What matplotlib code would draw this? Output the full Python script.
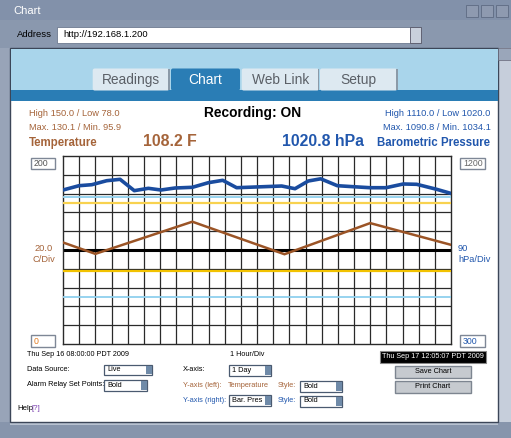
import matplotlib
matplotlib.use("Agg")
import matplotlib.pyplot as plt
from matplotlib.patches import Rectangle, FancyBboxPatch

plt.rcParams['font.family'] = ['Liberation Sans', 'DejaVu Sans']

# ---------------- data ----------------
temp_hours = [0, 2, 8, 13.7, 19, 24]
temp_values = [108.0, 95.9, 130.1, 95.5, 128.6, 105.5]

pres_hours = [0, 0.99, 1.78, 2.70, 3.53, 4.41, 5.28, 6.06, 6.93, 8.0, 8.99, 9.88,
              10.74, 13.53, 14.35, 15.17, 15.94, 16.97, 17.96, 18.99, 19.98,
              21.05, 21.88, 23.11, 24]
pres_values = [1037.2, 1057.8, 1062.6, 1081.7, 1088.4, 1034.1, 1045.3, 1037.2,
               1046.8, 1050.1, 1072.2, 1083.6, 1048.2, 1056.3, 1043.4, 1080.3,
               1090.8, 1057.8, 1053.0, 1048.2, 1048.2, 1066.0, 1064.5, 1040.6,
               1020.8]

temp_alarms = [150.0, 78.0]        # High / Low (left axis)
pres_alarms = [1003.0, 525.0]      # light blue set points (right axis)
left_range = (0, 200)
right_range = (300, 1200)
n_hours = 24
tab_labels = ["Readings", "Chart", "Web Link", "Setup"]

BROWN_TXT = '#a5643a'
BROWN_LINE = '#9b5426'
BLUE_TXT = '#2157ad'
BLUE_LINE = '#1a4c9f'

W, H = 511, 438
fig = plt.figure(figsize=(W / 100, H / 100), dpi=100)
bg = fig.add_axes([0, 0, 1, 1])
bg.set_xlim(0, W)
bg.set_ylim(H, 0)
bg.axis('off')


def rect(x, y, w, h, fc, ec='none', lw=0, z=1):
    bg.add_patch(Rectangle((x, y), w, h, facecolor=fc, edgecolor=ec, linewidth=lw, zorder=z))


def txt(x, y, s, size=6.7, color='black', weight='normal', ha='left', va='center', z=5, **kw):
    bg.text(x, y, s, fontsize=size, color=color, fontweight=weight, ha=ha, va=va, zorder=z, **kw)


def dropdown(x, y, w, h, label):
    rect(x, y, w, h, 'white', '#4a5a70', 0.9, z=3)
    rect(x + w - 6, y + 1, 5.5, h - 2, '#6f8aa8', z=4)
    txt(x + 3, y + h / 2, label, size=5.3)


# ---------------- window chrome ----------------
rect(0, 0, W, H, '#8796ad', z=0)
rect(0, 0, W, 20, '#8291aa', z=0.5)
txt(13, 11.5, "Chart", size=8, color='white')
# window buttons
for bx in (466, 481, 496):
    rect(bx, 5, 12, 12, '#8e9ab0', '#5d6a82', 0.6, z=1)
rect(0, 20, W, 28, '#8a98ae', z=0.5)
txt(16.5, 34.5, "Address", size=6.8)
rect(57, 26.5, 356, 16, 'white', '#6d7a90', 0.6, z=1)
txt(63, 34.5, "http://192.168.1.200", size=6.8)
rect(410, 26.5, 11, 16, '#c9d0dc', '#556', 0.6, z=2)
# left border & scrollbar & bottom
rect(0, 48, 10, 390, '#98a4b8', z=0.5)
rect(498, 48, 13, 380, '#c6cedb', z=0.5)
rect(498, 48, 13, 12, '#9aa6ba', '#667', 0.5, z=1)
rect(0, 422, W, 16, '#8795ac', z=0.5)
rect(10, 422, 488, 3, '#b7c1d0', z=0.6)

# content frame
rect(10, 48, 488, 374, 'white', '#3c4658', 1.0, z=0.8)
rect(11, 49, 487, 41, '#a9d5eb', z=1)
rect(11, 90, 487, 10.5, '#2a7db5', z=1)

# tabs
tab_x = [(92.7, 169.3), (171, 240), (241.7, 319), (320, 397.3)]
for (x0, x1), lab in zip(tab_x, tab_labels):
    active = lab == "Chart"
    fc = '#2a7db5' if active else '#dde9f1'
    bg.add_patch(FancyBboxPatch((x0, 68.5), x1 - x0, 22, boxstyle="round,pad=0,rounding_size=2",
                                facecolor=fc, edgecolor='none', zorder=2))
    if not active:
        rect(x1 - 1, 69, 1.2, 21, '#8b9aa8', z=2.5)
    txt((x0 + x1) / 2, 80, lab, size=9.9, color='white' if active else '#5a5f66', ha='center', z=3)

# ---------------- header texts ----------------
txt(29, 114, "High 150.0 / Low 78.0", color=BROWN_TXT)
txt(29, 127, "Max. 130.1 / Min. 95.9", color=BROWN_TXT)
txt(29, 143, "Temperature", size=8.3, color=BROWN_TXT, weight='bold')
txt(143, 142, "108.2 F", size=11.4, color=BROWN_TXT, weight='bold')
txt(204, 113.5, "Recording: ON", size=9.9, weight='bold')
txt(281.5, 142, "1020.8 hPa", size=11.4, color=BLUE_TXT, weight='bold')
txt(490, 114, "High 1110.0 / Low 1020.0", color=BLUE_TXT, ha='right')
txt(491, 127, "Max. 1090.8 / Min. 1034.1", color=BLUE_TXT, ha='right')
txt(490, 143, "Barometric Pressure", size=8.3, color=BLUE_TXT, weight='bold', ha='right')

# axis value boxes
def valbox(x, y, w, h, s, color):
    rect(x, y, w, h, 'white', '#7e8796', 1.0, z=3)
    txt(x + 3, y + h / 2 + 0.3, s, size=6.3, color=color, z=4)

valbox(31, 158, 24, 10.5, "200", '#555555')
valbox(31, 335, 24, 11.5, "0", '#e07a1f')
valbox(460, 158, 25, 11, "1200", '#666666')
valbox(460, 335, 25, 11.5, "300", BLUE_TXT)

txt(43.5, 248.5, "20.0", size=6.7, color=BROWN_TXT, ha='center')
txt(44, 260, "C/Div", size=6.7, color=BROWN_TXT, ha='center')
txt(458, 248.5, "90", size=6.7, color=BLUE_TXT)
txt(458, 260, "hPa/Div", size=6.7, color=BLUE_TXT)

# ---------------- chart ----------------
x0, x1, y0, y1 = 63, 451, 156, 344
ax = fig.add_axes([x0 / W, 1 - y1 / H, (x1 - x0) / W, (y1 - y0) / H])
ax.set_xlim(0, n_hours)
ax.set_ylim(*left_range)
ax.set_facecolor('white')
for h in range(1, n_hours):
    ax.axvline(h, color='#2a2a2a', lw=0.9, zorder=1)
for v in range(20, 200, 20):
    ax.axhline(v, color='#2a2a2a', lw=0.9, zorder=1)
ax.axhline(100, color='black', lw=2.2, zorder=2)
for s in ax.spines.values():
    s.set_color('#2a2a2a')
    s.set_linewidth(1.0)
ax.set_xticks([])
ax.set_yticks([])
for a, c in zip(temp_alarms, ['#f8d24f', '#f2c200']):
    ax.axhline(a, color=c, lw=1.6, zorder=3)
ax.plot(temp_hours, temp_values, color=BROWN_LINE, lw=1.8, zorder=5, solid_joinstyle='miter')

ax2 = ax.twinx()
ax2.set_ylim(*right_range)
ax2.set_xlim(0, n_hours)
ax2.set_yticks([])
for s in ax2.spines.values():
    s.set_visible(False)
for a in pres_alarms:
    ax2.axhline(a, color='#8fd0ee', lw=1.3, zorder=3)
ax2.plot(pres_hours, pres_values, color=BLUE_LINE, lw=2.6, zorder=5, solid_joinstyle='round')

# ---------------- bottom controls ----------------
txt(27, 354, "Thu Sep 16 08:00:00 PDT 2009", size=5.2)
txt(230, 354, "1 Hour/Div", size=5.2)
rect(379.5, 350.5, 106.5, 12, 'black', '#888', 0.8, z=3)
txt(432.7, 356.6, "Thu Sep 17 12:05:07 PDT 2009", size=5.2, color='white', ha='center', z=4)

for (by, lab) in ((365.7, "Save Chart"), (381, "Print Chart")):
    rect(395, by, 76, 12, '#c6cacf', '#7d8590', 1.0, z=3)
    txt(433, by + 6, lab, size=5.3, ha='center', z=4)

txt(27, 369.5, "Data Source:", size=5.3)
dropdown(104, 364.5, 48, 10.5, "Live")
txt(27, 385, "Alarm Relay Set Points:", size=5.3)
dropdown(104, 380, 43, 11, "Bold")

txt(183, 369.5, "X-axis:", size=5.3)
dropdown(229, 365, 42, 10.5, "1 Day")
txt(183, 385.5, "Y-axis (left):", size=5.3, color=BROWN_TXT)
txt(228, 385.5, "Temperature", size=5.3, color=BROWN_TXT)
txt(278, 385.5, "Style:", size=5.3, color=BROWN_TXT)
dropdown(300, 380.5, 42, 11, "Bold")
txt(183, 400.5, "Y-axis (right):", size=5.3, color=BLUE_TXT)
dropdown(229, 395, 42, 11, "Bar. Pres")
txt(278, 400.5, "Style:", size=5.3, color=BLUE_TXT)
dropdown(300, 395.5, 42, 11, "Bold")

txt(17, 409, "Help", size=5.6)
txt(32, 409, "[?]", size=5.6, color='#7a3fb0')

fig.savefig("out.png", dpi=100)
